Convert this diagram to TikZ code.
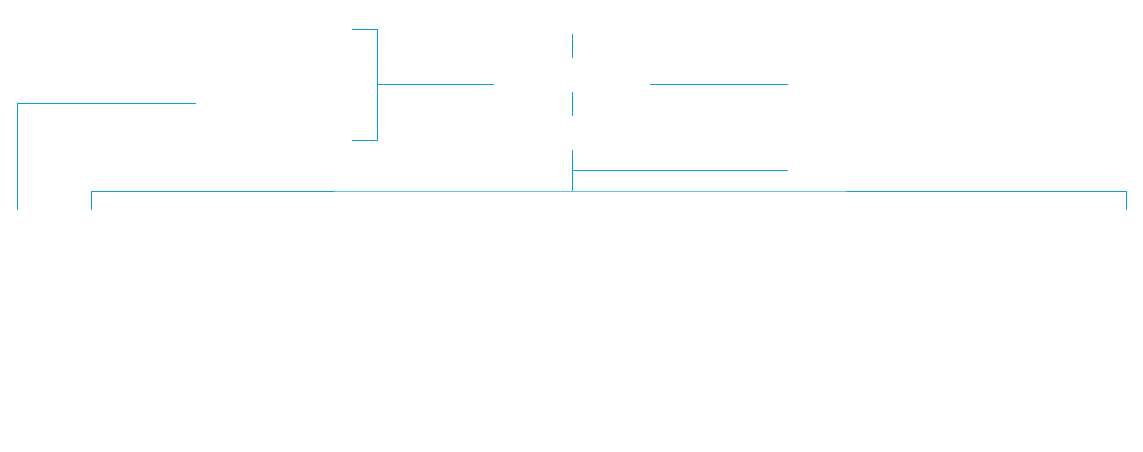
\documentclass[tikz,border=0pt]{standalone}
\definecolor{linkblue}{RGB}{0,166,226}
\begin{document}
\begin{tikzpicture}[x=1pt, y=-1pt,
    link/.style={draw=linkblue, line width=0.9pt}]
    \useasboundingbox (0, 0) rectangle (1143, 452);
    % end points of the connectors
    \coordinate (leftfoot) at (17, 210);
    \coordinate (leftend) at (196, 103);
    \coordinate (upper) at (352, 29);
    \coordinate (lower) at (352, 140);
    \coordinate (mergein) at (494, 84);
    \coordinate (mergeout) at (650, 84);
    \coordinate (rightend) at (788, 84);
    \coordinate (stemtop) at (572, 150);
    \coordinate (sideend) at (788, 170);
    \coordinate (busleft) at (91, 210);
    \coordinate (busright) at (1126, 210);
    \draw [link] (leftfoot) |- (leftend);
    \draw [link] (upper) -- (377, 29) -- (377, 140) -- (lower);
    \draw [link] (377, 84) -- (mergein);
    \draw [link] (mergeout) -- (rightend);
    \draw [link] (572, 34) -- (572, 58);
    \draw [link] (572, 92) -- (572, 116);
    \draw [link] (stemtop) -- (572, 191);
    \draw [link] (572, 170) -- (sideend);
    \draw [link] (busleft) |- (572, 191) -| (busright);
  \end{tikzpicture}
\end{document}
